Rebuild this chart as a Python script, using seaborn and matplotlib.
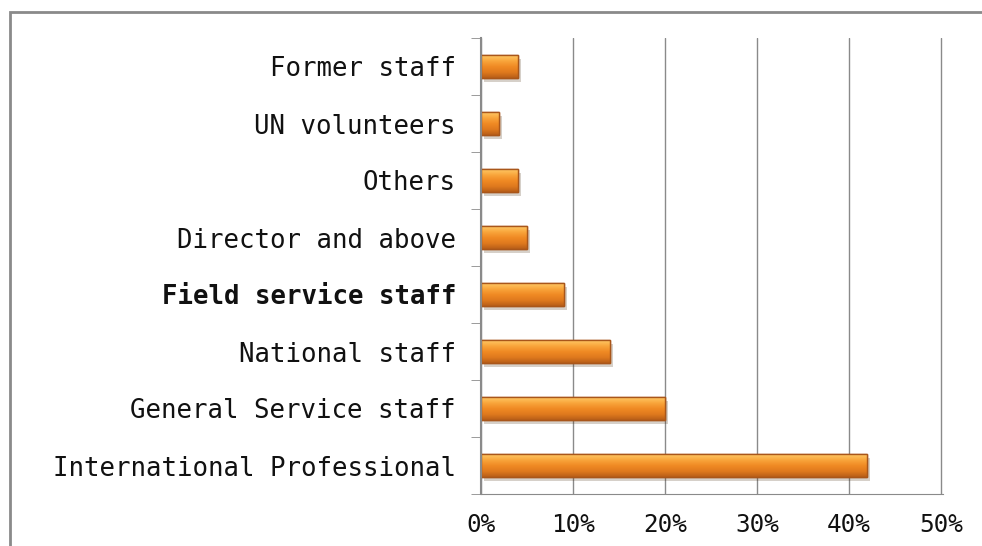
import matplotlib
matplotlib.use("Agg")
import matplotlib.pyplot as plt
import matplotlib.patheffects as pe
from matplotlib.patches import Rectangle
from matplotlib.colors import LinearSegmentedColormap
from matplotlib.ticker import FuncFormatter, FixedLocator
import seaborn as sns
import pandas as pd
import numpy as np

# staff categories, top to bottom
categories = ["Former staff", "UN volunteers", "Others", "Director and above",
              "Field service staff", "National staff", "General Service staff",
              "International Professional"]
shares = [4, 2, 4, 5, 9, 14, 20, 42]

df = pd.DataFrame({"category": categories, "share": shares})

sns.set_style("white")
plt.rcParams["font.family"] = ["DejaVu Sans Mono", "DejaVu Sans"]

fig = plt.figure(figsize=(9.82, 5.46), dpi=100)
ax = fig.add_axes([481 / 982, 1 - 494 / 546, 461.8 / 982, 456 / 546])

sns.barplot(data=df, x="share", y="category", orient="h", color="#F08A24",
            width=0.4, edgecolor="#A9561A", linewidth=1.0, saturation=1, ax=ax)

# bevel-like vertical gradient on each bar (light on top, dark at bottom)
bevel = LinearSegmentedColormap.from_list(
    "bevel", ["#FFC866", "#F9A63C", "#F08A24", "#E07A1E", "#B85E18"])
grad = np.linspace(0, 1, 64).reshape(-1, 1)
for bar in list(ax.patches):
    bar.set_path_effects([pe.SimplePatchShadow(offset=(2, -3), alpha=0.22), pe.Normal()])
    x0, y0 = bar.get_x(), bar.get_y()
    w, h = bar.get_width(), bar.get_height()
    # y axis is inverted, so row 0 (light) ends up on the visual top
    im = ax.imshow(grad, extent=[x0, x0 + w, y0, y0 + h], origin="lower",
                   aspect="auto", cmap=bevel, zorder=bar.get_zorder() + 0.1)
    im.set_clip_path(bar)
    edge = Rectangle((x0, y0), w, h, fill=False, edgecolor="#A9561A",
                     linewidth=1.0, zorder=bar.get_zorder() + 0.2)
    ax.add_patch(edge)

ax.set_xlim(0, 50.2)
ax.set_ylim(len(categories) - 0.5, -0.5)
ax.set_xticks([0, 10, 20, 30, 40, 50])
ax.xaxis.set_major_formatter(FuncFormatter(lambda v, p: f"{v:.0f}%"))
ax.grid(axis="x", color="#8a8a8a", linewidth=1)
ax.set_axisbelow(True)
ax.set_xlabel("")
ax.set_ylabel("")

for s in ["top", "right"]:
    ax.spines[s].set_visible(False)
ax.spines["left"].set_color("#8a8a8a")
ax.spines["bottom"].set_color("#8a8a8a")
ax.spines["left"].set_linewidth(1.5)

ax.tick_params(axis="x", length=7, color="#8a8a8a", labelsize=17.5, pad=7)
ax.tick_params(axis="y", which="major", length=0, labelsize=18.5, pad=18)
ax.yaxis.set_minor_locator(FixedLocator([i - 0.5 for i in range(len(categories) + 1)]))
ax.tick_params(axis="y", which="minor", length=7, color="#8a8a8a", left=True)

for lbl in ax.get_yticklabels():
    lbl.set_color("#111111")
    if lbl.get_text() == "Field service staff":
        lbl.set_fontweight("bold")
for lbl in ax.get_xticklabels():
    lbl.set_color("#111111")

fig.patches.append(Rectangle((10 / 982, -0.1), 1.2, 1 - 12 / 546 + 0.1,
                             transform=fig.transFigure, fill=False,
                             edgecolor="#8a8a8a", linewidth=2))

fig.savefig("out.png", dpi=100)
